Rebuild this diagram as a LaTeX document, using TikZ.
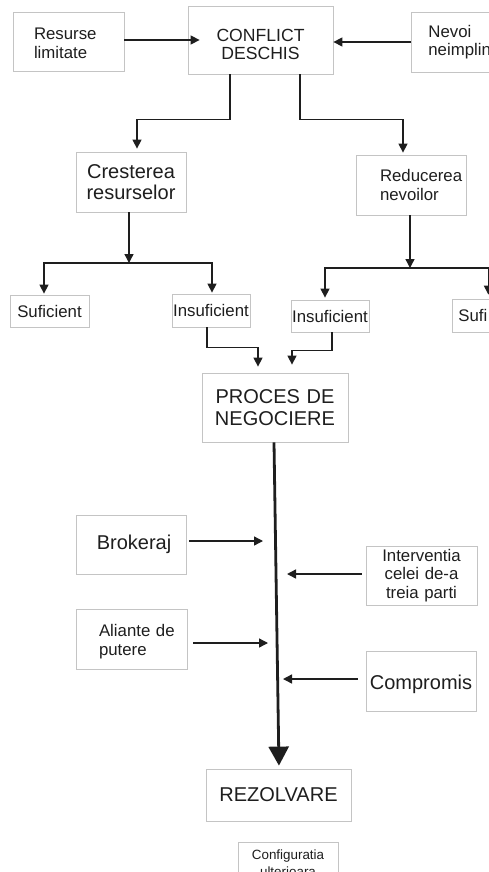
\documentclass[tikz,border=0pt]{standalone}
\usepackage{fontspec}
\setmainfont{Liberation Sans}
\usetikzlibrary{arrows.meta,calc}
\definecolor{ink}{HTML}{1E1E1E}
\definecolor{boxgray}{HTML}{C4C4C4}
\newcommand{\fszA}{\fontsize{16.8}{18.5}\selectfont}
\newcommand{\fszB}{\fontsize{20}{21.7}\selectfont}
\newcommand{\fszC}{\fontsize{17.6}{18.5}\selectfont}
\newcommand{\fszD}{\fontsize{13.4}{17}\selectfont}
\begin{document}
\begin{tikzpicture}[x=1pt,y=-1pt,
  box/.style={draw=boxgray, line width=0.8pt, inner xsep=0pt, inner ysep=0pt, text=ink},
  arr/.style={draw=ink, line width=1.4pt, -{Triangle[length=9pt,width=9pt]}},
  bigarr/.style={draw=ink, line width=2.8pt, -{Triangle[length=19pt,width=20pt]}}]
\useasboundingbox (0,0) rectangle (489,872);
\clip (0,0) rectangle (489,872);

% boxes
\node[box, text width=111pt, minimum height=59pt, align=left, font=\fszA] (res) at (68.5,41.5)
  {\hspace*{21pt}\rule{0pt}{15.5pt}Resurse\\\hspace*{21pt}limitate};
\node[box, text width=145pt, minimum height=68pt, align=center, font=\fszC] (conf) at (260.5,40)
  {\rule{0pt}{21.6pt}CONFLICT\\DESCHIS};
\node[box, anchor=west, text width=127pt, minimum height=60pt, align=left, font=\fszA] (nev) at (411,42)
  {\hspace*{17pt}Nevoi\\\hspace*{17pt}neimplin};
\node[box, text width=110pt, minimum height=60pt, align=center, font=\fszB] (cre) at (131,182)
  {Cresterea\\resurselor};
\node[box, text width=110pt, minimum height=60pt, align=left, font=\fszA] (red) at (411,185)
  {\hspace*{24pt}Reducerea\\\hspace*{24pt}nevoilor};
\node[box, text width=79pt, minimum height=32pt, align=center, font=\fszA] (suf) at (49.5,311) {Suficient};
\node[box, text width=78pt, minimum height=33pt, align=center, font=\fszA] (insl) at (211,310.5) {Insuficient};
\node[box, text width=78pt, minimum height=32pt, align=center, font=\fszA] (insr) at (330,316) {Insuficient};
\node[box, anchor=west, text width=72pt, minimum height=33pt, align=left, font=\fszA] (sufr) at (452,315.5)
  {\hspace*{6pt}Sufi};
\node[box, text width=146pt, minimum height=69pt, align=center, font=\fszB] (proc) at (275,407.5)
  {PROCES DE\\NEGOCIERE};
\node[box, text width=110pt, minimum height=59pt, align=center, font=\fszB] (brok) at (131,544.5)
  {\hspace*{6pt}Brokeraj};
\node[box, text width=111pt, minimum height=59pt, align=center, font=\fszA] (intv) at (421.5,575.5)
  {Interventia\\celei de-a\\treia parti};
\node[box, text width=111pt, minimum height=60pt, align=left, font=\fszA] (ali) at (131.5,639)
  {\hspace*{23pt}\rule{0pt}{17.2pt}Aliante de\\\hspace*{23pt}putere};
\node[box, text width=110pt, minimum height=60pt, align=center, font=\fszB] (comp) at (421,681)
  {\rule{0pt}{20.3pt}Compromis};
\node[box, text width=145pt, minimum height=52pt, align=center, font=\fszB] (rez) at (278.5,795) {REZOLVARE};
\node[box, anchor=north, text width=100pt, inner ysep=7pt, align=center, font=\fszD] (cfg) at (288,842)
  {Configuratia\\ulterioara};

% connectors
\draw[arr, shorten >=-12pt] (conf.west -| res.east) -- (conf.west);
\draw[arr] (nev.west) -- (nev.west -| conf.east);
\draw[arr, shorten >=3pt] ([xshift=-30.5pt]conf.south) -- ++(0,45) -| ([xshift=6pt]cre.north);
\draw[arr, shorten >=2pt] ([xshift=39.5pt]conf.south) -- ++(0,45) -| ([xshift=-8pt]red.north);

\coordinate (bl) at (129,263);
\draw[arr] ([xshift=-2pt]cre.south) -- (bl);
\draw[arr, shorten >=1pt] (bl) -| ([xshift=-5.5pt]suf.north);
\draw[arr, shorten >=1pt] (bl) -| ([xshift=1pt]insl.north);

\coordinate (br) at (410,268);
\draw[arr] ([xshift=-1pt]red.south) -- (br);
\draw[arr, shorten >=2pt] (br) -| ([xshift=-5pt]insr.north);
\draw[arr, shorten >=4pt] (br) -| (sufr.north);

\draw[arr, shorten >=6pt] ([xshift=-4pt]insl.south) -- ++(0,20) -| ([xshift=-17pt]proc.north);
\draw[arr, shorten >=8pt] ([xshift=2pt]insr.south) -- ++(0,18) -| ([xshift=17pt]proc.north);

\draw[bigarr, shorten >=3pt] ([xshift=-1pt]proc.south) -- ([xshift=0.5pt]rez.north);

\coordinate (kb) at (263,541);
\coordinate (ki) at (287,574);
\coordinate (ka) at (268,643);
\coordinate (kc) at (283,679);
\draw[arr, shorten <=3pt] (kb -| brok.east) -- (kb);
\draw[arr, shorten <=4pt] (ki -| intv.west) -- (ki);
\draw[arr, shorten <=6pt] (ka -| ali.east) -- (ka);
\draw[arr, shorten <=8pt] (kc -| comp.west) -- (kc);
\end{tikzpicture}
\end{document}
